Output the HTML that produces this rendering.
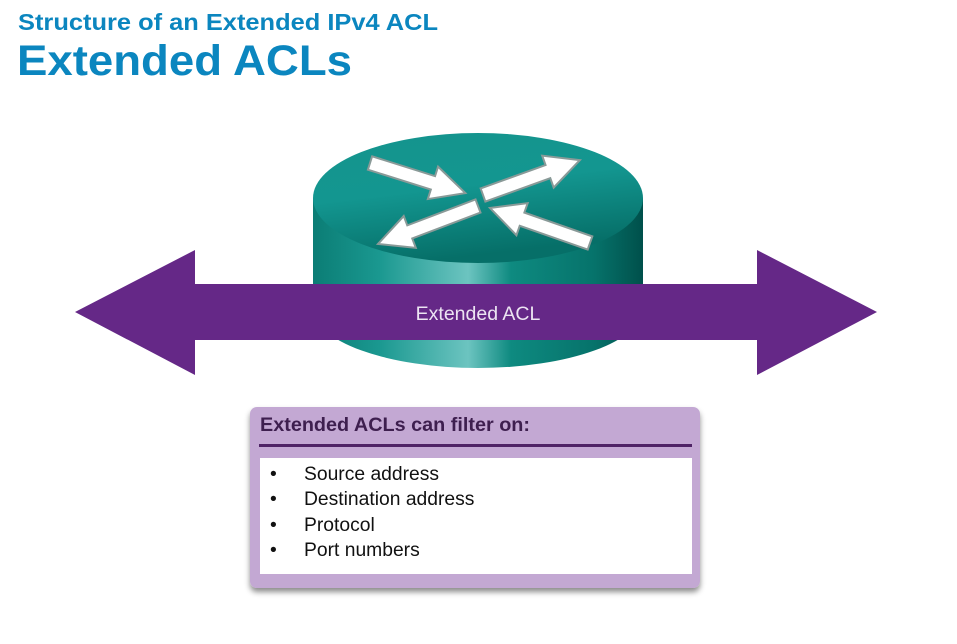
<!DOCTYPE html>
<html><head><meta charset="utf-8"><style>
body{margin:0;width:957px;height:639px;background:#fff;overflow:hidden;font-family:"Liberation Sans",Arial,sans-serif;}
</style></head><body>
<svg width="957" height="639" viewBox="0 0 957 639" xmlns="http://www.w3.org/2000/svg">
<defs>
<linearGradient id="side" x1="0" x2="1" y1="0" y2="0">
<stop offset="0" stop-color="#0b7d75"/>
<stop offset="0.2" stop-color="#1a9890"/>
<stop offset="0.47" stop-color="#6cc4c0"/>
<stop offset="0.6" stop-color="#0e8a80"/>
<stop offset="0.85" stop-color="#06736b"/>
<stop offset="1" stop-color="#00504b"/>
</linearGradient>
<linearGradient id="top" x1="0" x2="0.3" y1="0" y2="1">
<stop offset="0" stop-color="#15948d"/>
<stop offset="0.5" stop-color="#139690"/>
<stop offset="1" stop-color="#066f68"/>
</linearGradient>
<filter id="sh" x="-10%" y="-10%" width="120%" height="130%"><feDropShadow dx="0" dy="4" stdDeviation="3" flood-color="#000" flood-opacity="0.45"/></filter>
</defs>
<text x="18" y="30" font-size="23" font-weight="bold" fill="#0b86bf" textLength="420" lengthAdjust="spacingAndGlyphs">Structure of an Extended IPv4 ACL</text>
<text x="17" y="75" font-size="43" font-weight="bold" fill="#0b86bf" textLength="335" lengthAdjust="spacingAndGlyphs">Extended ACLs</text>

<!-- router -->
<path d="M313 198 L313 308 A165 60 0 0 0 643 308 L643 198 Z" fill="url(#side)"/>
<ellipse cx="478" cy="198" rx="165" ry="65" fill="url(#top)"/>
<g fill="#fff" stroke="#8a9a98" stroke-width="2" stroke-linejoin="miter">
<polygon points="0,-7 66,-7 66,-17 100,0 66,17 66,7 0,7" transform="translate(370,163) rotate(17.5)"/>
<polygon points="0,-7 69,-7 69,-17 103,0 69,17 69,7 0,7" transform="translate(483,195) rotate(-19.8)"/>
<polygon points="0,-7 73,-7 73,-17 107,0 73,17 73,7 0,7" transform="translate(478,206) rotate(159.2)"/>
<polygon points="0,-7 72,-7 72,-17 106,0 72,17 72,7 0,7" transform="translate(590,243) rotate(199.3)"/>
</g>

<!-- double arrow -->
<polygon points="75,312 195,250 195,284 757,284 757,250 877,312 757,375 757,340 195,340 195,375" fill="#652887"/>
<text x="478" y="320" font-size="19.5" fill="#ece4f2" text-anchor="middle">Extended ACL</text>

<!-- box -->
<rect x="250" y="407" width="450" height="181" rx="7" fill="#c3a8d3" filter="url(#sh)"/>
<text x="260" y="431" font-size="19" font-weight="bold" fill="#3e1f4f" textLength="270" lengthAdjust="spacingAndGlyphs">Extended ACLs can filter on:</text>
<rect x="259" y="444" width="433" height="3" fill="#4f2366"/>
<rect x="260" y="458" width="432" height="116" fill="#fff"/>
<g font-size="19.3" fill="#111">
<text x="270" y="480">•</text><text x="304" y="480">Source address</text>
<text x="270" y="505">•</text><text x="304" y="505">Destination address</text>
<text x="270" y="531">•</text><text x="304" y="531">Protocol</text>
<text x="270" y="556">•</text><text x="304" y="556">Port numbers</text>
</g>
</svg>
</body></html>
